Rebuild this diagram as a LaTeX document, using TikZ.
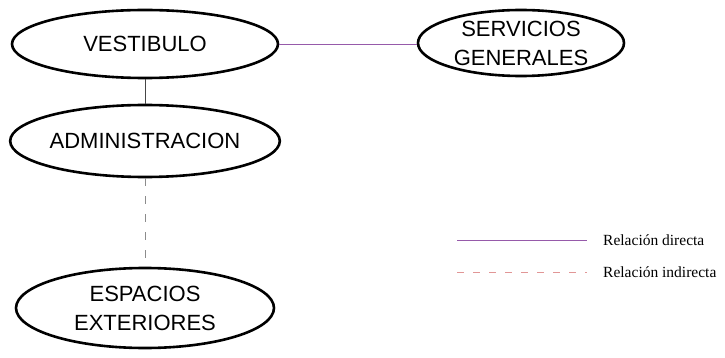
\documentclass[tikz,border=0pt]{standalone}
\usepackage{fontspec}
\setmainfont{Liberation Sans}
\newfontfamily\legendfont{Liberation Serif}
\usetikzlibrary{shapes.geometric}
\definecolor{directline}{RGB}{150,90,170}
\definecolor{linkgray}{RGB}{70,70,70}
\definecolor{dashgray}{RGB}{140,140,140}
\definecolor{legdash}{RGB}{225,150,150}
\begin{document}
\begin{tikzpicture}[x=1pt,y=-1pt,
  zone/.style={ellipse,draw=black,line width=2.6pt,inner sep=0pt,align=center,
    font=\fontsize{22}{29}\selectfont},
  direct/.style={draw=directline,line width=0.8pt},
  vertical/.style={draw=linkgray,line width=0.8pt},
  indirect/.style={draw=dashgray,line width=0.8pt,dash pattern=on 8pt off 10pt},
  legsolid/.style={draw=directline,line width=1pt},
  legdashed/.style={draw=legdash,line width=1pt,dash pattern=on 7pt off 9pt},
  legtext/.style={anchor=west,inner sep=0pt,font=\legendfont\fontsize{15.5}{18}\selectfont}]
\useasboundingbox (0,0) rectangle (725,358);
\fill[white] (0,0) rectangle (725,358);
\node[zone,minimum width=266pt,minimum height=68pt] (vest) at (145,44) {VESTIBULO};
\node[zone,minimum width=206pt,minimum height=66pt] (serv) at (521,43) {SERVICIOS\\GENERALES};
\node[zone,minimum width=264pt,minimum height=72pt] (admin) at (145,141) {ADMINISTRACION};
\node[zone,minimum width=258pt,minimum height=80pt] (esp) at (145,308) {ESPACIOS\\EXTERIORES};
\draw[direct] (vest.east) -- (vest.east -| serv.west);
\draw[vertical] (vest.south) -- (admin.north);
\draw[indirect] (admin.south) -- (esp.north);
\coordinate (l1a) at (457,240);
\coordinate (l1b) at (587,240);
\coordinate (l2a) at (457,272);
\coordinate (l2b) at (587,272);
\draw[legsolid] (l1a) -- (l1b);
\draw[legdashed] (l2a) -- (l2b);
\node[legtext] (t1) at (603,240) {Relación directa};
\node[legtext] (t2) at (603,272) {Relación indirecta};
\end{tikzpicture}
\end{document}
